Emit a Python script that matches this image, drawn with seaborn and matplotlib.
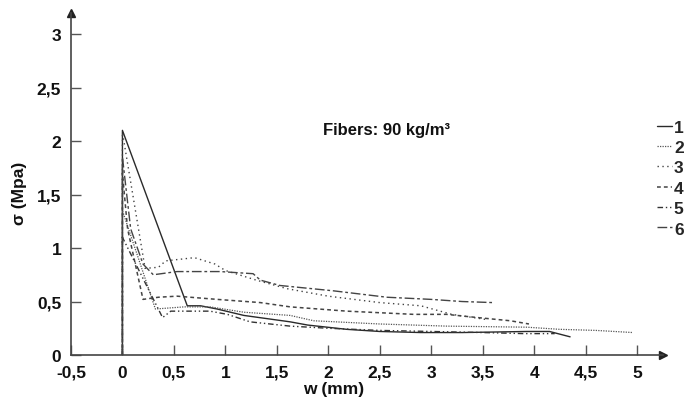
import numpy as np
import pandas as pd
import matplotlib
matplotlib.use("Agg")
import matplotlib.pyplot as plt
import seaborn as sns

# crack opening w (mm) and stress (MPa), one pair per specimen
w1 = [0, 0, 0.63, 0.76, 0.92, 1.18, 1.63, 1.8, 2.18, 2.5, 2.9, 3.3, 3.93, 4.15, 4.35]
s1 = [0, 2.1, 0.46, 0.46, 0.43, 0.37, 0.31, 0.28, 0.24, 0.22, 0.21, 0.21, 0.22, 0.22, 0.17]

w2 = [0, 0, 0.32, 0.6, 0.85, 1.18, 1.63, 1.86, 2.5, 3.15, 3.93, 4.25, 4.6, 4.96]
s2 = [0, 1.35, 0.43, 0.45, 0.45, 0.40, 0.37, 0.32, 0.29, 0.27, 0.26, 0.24, 0.23, 0.21]

w3 = [0, 0, 0.22, 0.35, 0.42, 0.7, 0.9, 1.0, 1.3, 1.6, 2.0, 2.5, 2.9, 3.2, 3.55]
s3 = [0, 2.08, 0.81, 0.82, 0.88, 0.91, 0.85, 0.79, 0.70, 0.62, 0.55, 0.49, 0.46, 0.38, 0.33]

w4 = [0, 0, 0.05, 0.2, 0.35, 0.53, 0.92, 1.34, 1.63, 2.18, 2.83, 3.15, 3.45, 3.77, 3.95]
s4 = [0, 1.7, 1.18, 0.52, 0.54, 0.55, 0.52, 0.49, 0.45, 0.41, 0.38, 0.38, 0.35, 0.32, 0.29]

w5 = [0, 0, 0.39, 0.47, 0.85, 1.02, 1.24, 1.63, 2.0, 2.5, 3.0, 3.5, 3.9, 4.2]
s5 = [0, 1.1, 0.35, 0.41, 0.41, 0.38, 0.31, 0.27, 0.25, 0.23, 0.22, 0.21, 0.20, 0.20]

w6 = [0, 0, 0.08, 0.2, 0.3, 0.53, 0.95, 1.27, 1.34, 1.53, 2.05, 2.57, 3.0, 3.3, 3.6]
s6 = [0, 1.85, 1.18, 0.85, 0.75, 0.78, 0.78, 0.76, 0.70, 0.65, 0.60, 0.54, 0.52, 0.50, 0.49]

labels = ["1", "2", "3", "4", "5", "6"]
xticks = [-0.5, 0, 0.5, 1, 1.5, 2, 2.5, 3, 3.5, 4, 4.5, 5]
yticks = [0, 0.5, 1, 1.5, 2, 2.5, 3]

sns.set_style("white")
plt.rcParams["font.family"] = ["Liberation Sans", "DejaVu Sans"]
plt.rcParams["font.weight"] = "bold"

fig = plt.figure(figsize=(6.85, 4.02), dpi=100)
ax = fig.add_axes([0.1036, 0.1144, 0.8639, 0.8516])

series = [(w1, s1), (w2, s2), (w3, s3), (w4, s4), (w5, s5), (w6, s6)]
styles = [
    ("-", 1.0, "#2a2a2a"),
    ((0, (1, 1)), 0.9, "#555555"),
    ((0, (1, 2.5)), 1.0, "#444444"),
    ((0, (2.5, 2)), 1.1, "#444444"),
    ((0, (4, 2, 1, 2, 1, 2)), 1.0, "#333333"),
    ((0, (7, 2, 2, 2)), 1.0, "#444444"),
]

for (w, s), lab, (ls, lw, col) in zip(series, labels, styles):
    df = pd.DataFrame({"w": w, "s": s})
    sns.lineplot(data=df, x="w", y="s", ax=ax, estimator=None, sort=False,
                 color=col, linestyle=ls, linewidth=lw, label=lab)

ax.set_xlim(-0.5, 5.25)
ax.set_ylim(0, 3.2)
ax.set_xticks(xticks)
ax.set_yticks(yticks)
fmt = lambda v: ("%g" % v).replace(".", ",")
ax.set_xticklabels([fmt(v) for v in xticks])
ax.set_yticklabels([fmt(v) for v in yticks])
ax.tick_params(direction="in", length=7, width=1, color="#555555",
               labelsize=12.5, pad=7, bottom=True, left=True)
for t in ax.get_xticklabels() + ax.get_yticklabels():
    t.set_fontweight("bold")
    t.set_color("#111111")

for side in ["top", "right"]:
    ax.spines[side].set_visible(False)
for side in ["left", "bottom"]:
    ax.spines[side].set_color("#444444")
    ax.spines[side].set_linewidth(1.2)

# arrow heads on the axes
ax.plot(1, 0, ">", color="#222222", ms=6, transform=ax.transAxes, clip_on=False)
ax.plot(0, 1, "^", color="#222222", ms=6, transform=ax.transAxes, clip_on=False)

ax.set_xlabel("w (mm)", fontsize=12.5, fontweight="bold", color="#111111")
ax.set_ylabel("σ (Mpa)", fontsize=12.5, fontweight="bold", color="#111111")
ax.xaxis.set_label_coords(0.443, -0.075)
ax.yaxis.set_label_coords(-0.074, 0.474)

ax.text(1.95, 2.11, "Fibers: 90 kg/m³", fontsize=12, fontweight="bold",
        color="#111111", ha="left", va="center")

handles, labs = ax.get_legend_handles_labels()
ax.legend_.remove()
fig.legend(handles, labs, loc="upper right", bbox_to_anchor=(0.998, 0.70),
           frameon=False, borderpad=0, borderaxespad=0, handlelength=0.9,
           handletextpad=0.1, labelspacing=0.3,
           prop={"size": 12.5, "weight": "bold"})

fig.savefig("out.png", dpi=100)
